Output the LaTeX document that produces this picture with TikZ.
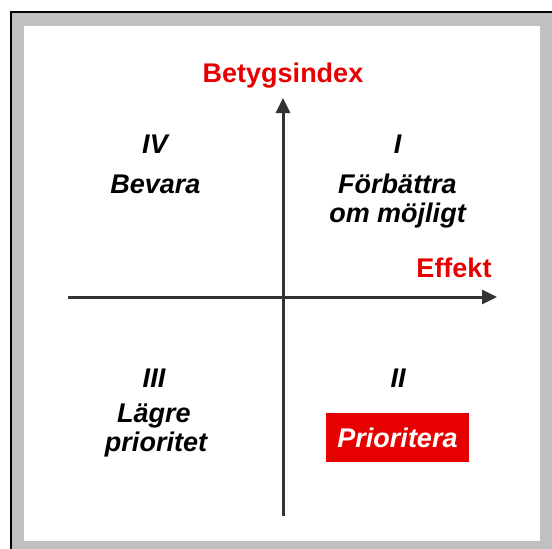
\documentclass[tikz,border=0pt]{standalone}
\usepackage{fontspec}
\setmainfont{Liberation Sans}
\usetikzlibrary{arrows.meta}
\definecolor{frameGrey}{HTML}{C0C0C0}
\definecolor{axisGrey}{HTML}{333333}
\definecolor{redA}{HTML}{E60000}
\begin{document}
\begin{tikzpicture}[x=1pt,y=-1pt,
  axis/.style={draw=axisGrey,line width=3pt,-{Triangle[length=15pt,width=14pt]}},
  redlabel/.style={text=redA,font=\fontsize{27}{27}\selectfont\bfseries,inner sep=0pt},
  quad/.style={font=\fontsize{27}{25}\selectfont\bfseries\itshape,inner sep=0pt}]
\useasboundingbox (0,0) rectangle (552,549);
\fill[white] (0,0) rectangle (552,549);
% frame
\fill[black] (10,11) rectangle (552,549);
\fill[frameGrey] (12,13) rectangle (552,549);
\fill[white] (24,26) rectangle (540,541);
% axes
\coordinate (yb) at (283,516);
\coordinate (yt) at (283,98);
\coordinate (xl) at (68,297);
\coordinate (xr) at (497,297);
\draw[axis] (yb) -- (yt);
\draw[axis] (xl) -- (xr);
% axis labels
\node[redlabel,anchor=base] (bet) at (283,82) {Betygsindex};
\node[redlabel,anchor=base] (eff) at (454,277) {Effekt};
% quadrants
\node[quad,anchor=base] (q4) at (155,153) {IV};
\node[quad,anchor=base] (q4t) at (155.5,193) {Bevara};
\node[quad,anchor=base] (q1) at (397.5,153) {I};
\node[quad,anchor=base] (q1a) at (397.5,193) {Förbättra};
\node[quad,anchor=base] (q1b) at (397.5,222) {om möjligt};
\node[quad,anchor=base] (q3) at (154,387) {III};
\node[quad,anchor=base] (q3a) at (154,422) {Lägre};
\node[quad,anchor=base] (q3b) at (156,451) {prioritet};
\node[quad,anchor=base] (q2) at (398,387) {II};
\fill[redA] (326,413) rectangle (469,462);
\node[quad,text=white] (q2t) at (397.5,437.5) {Prioritera};
\end{tikzpicture}
\end{document}
